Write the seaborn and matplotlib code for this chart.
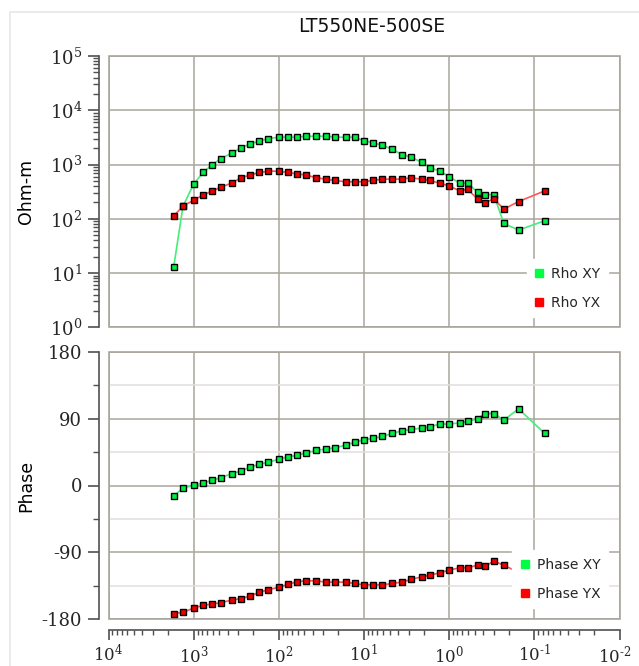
import matplotlib
matplotlib.use("Agg")
import matplotlib.pyplot as plt
import matplotlib.ticker as mticker
import matplotlib.transforms as mtransforms
from matplotlib.lines import Line2D
from matplotlib.patches import Rectangle
import numpy as np
import seaborn as sns

# ---------------- data ----------------
title = "LT550NE-500SE"
periods = [1714, 1334, 1000, 778, 610, 479, 359, 279, 219, 170, 133, 100, 77.8, 61.5,
           47.4, 36.2, 28.1, 21.9, 16.4, 12.9, 10.1, 7.85, 6.08, 4.65, 3.61, 2.80, 2.11,
           1.70, 1.29, 1.0, 0.755, 0.608, 0.464, 0.384, 0.299, 0.228, 0.153, 0.0755]
rho_xy = [13.1, 171, 435, 713, 986, 1289, 1617, 2028, 2400, 2686, 3013, 3187, 3187, 3187,
          3322, 3322, 3322, 3187, 3187, 3187, 2767, 2506, 2268, 1915, 1528, 1365, 1104,
          881, 754, 601, 453, 453, 309, 277, 277, 82, 62, 92]
rho_yx = [113, 171, 221, 273, 323, 383, 453, 569, 637, 713, 754, 754, 713, 673, 637, 569,
          537, 508, 480, 480, 480, 508, 537, 537, 537, 569, 537, 508, 453, 404, 327, 347,
          233, 197, 233, 151, 208, 327]
phase_xy = [-14.1, -3.4, 0.2, 3.4, 6.9, 10.5, 15.9, 19.5, 24.8, 28.4, 31.5, 35.1, 38.7,
            40.5, 44.1, 47.2, 49.0, 50.8, 54.4, 58.0, 61.5, 63.3, 66.0, 70.0, 73.6, 75.4,
            77.2, 79.0, 82.6, 82.6, 84.3, 86.1, 89.7, 96.8, 96.8, 87.9, 103.1, 70.0]
phase_yx = [-172.5, -170.7, -164.9, -161.3, -159.5, -157.7, -154.1, -152.3, -148.8, -143.8,
            -140.3, -136.7, -133.1, -129.5, -128.2, -128.2, -130.0, -130.0, -130.0, -131.8,
            -133.6, -133.6, -133.6, -131.8, -130.0, -126.4, -122.8, -121.0, -117.4, -113.9,
            -110.7, -110.7, -107.2, -108.9, -101.8, -107.2, -117.0, -125.0]
rho_labels = ["Rho XY", "Rho YX"]
phase_labels = ["Phase XY", "Phase YX"]
phase_ticks = [-180, -90, 0, 90, 180]
phase_ticklabels = ["-180", "-90", "0", "90", "180"]

# ---------------- style ----------------
sns.set_theme(style="white")
plt.rcParams["font.family"] = ["DejaVu Sans"]
plt.rcParams["mathtext.fontset"] = "dejavuserif"
plt.rcParams["axes.unicode_minus"] = False

GREEN = "#00ee44"
GREEN_LINE = "#44ee77"
RED = "#ee0000"
RED_LINE = "#ff5555"
GRID = "#a9a59e"
GRID_MINOR = "#e2dfda"
SPINE = "#505050"
TICK_FS = 13

W, H = 639, 666
fig = plt.figure(figsize=(W / 100, H / 100), dpi=100)

L, R = 108.5, 619.5
def axrect(top, bottom):
    return [L / W, 1 - bottom / H, (R - L) / W, (bottom - top) / H]

ax1 = fig.add_axes(axrect(56, 327.3))
ax2 = fig.add_axes(axrect(351.7, 619.3))

# outer light frame
fig.patches.append(Rectangle((10 / W, -0.1), 1.2, 1 - 12 / H + 0.1, transform=fig.transFigure,
                             fill=False, edgecolor="#e6e6e6", lw=1.2))

line_kw = dict(marker="s", markersize=5.0, markeredgecolor="black", markeredgewidth=1.0,
               linewidth=1.2, sort=False, estimator=None)

sns.lineplot(x=periods, y=rho_xy, ax=ax1, color=GREEN_LINE, markerfacecolor=GREEN, zorder=3, **line_kw)
sns.lineplot(x=periods, y=rho_yx, ax=ax1, color=RED_LINE, markerfacecolor=RED, zorder=4, **line_kw)
sns.lineplot(x=periods, y=phase_xy, ax=ax2, color=GREEN_LINE, markerfacecolor=GREEN, zorder=3, **line_kw)
sns.lineplot(x=periods, y=phase_yx, ax=ax2, color=RED_LINE, markerfacecolor=RED, zorder=4, **line_kw)

def log_fmt(v, pos):
    if v <= 0:
        return ""
    n = int(round(np.log10(v)))
    if n < 0:
        return r"$10^{\text{-}%d}$" % (-n)
    return r"$10^{%d}$" % n

for ax in (ax1, ax2):
    ax.set_xscale("log")
    ax.set_xlim(1e4, 1e-2)
    ax.xaxis.set_major_locator(mticker.FixedLocator([1e4, 1e3, 1e2, 1e1, 1e0, 1e-1, 1e-2]))
    ax.xaxis.set_minor_locator(mticker.LogLocator(base=10, subs=np.arange(2, 10), numticks=20))
    ax.set_facecolor("white")
    for s in ("top", "right"):
        ax.spines[s].set_visible(False)
    ax.spines["left"].set_position(("outward", 7))
    ax.spines["left"].set_color(SPINE)
    ax.spines["left"].set_linewidth(1.2)
    ax.add_patch(Rectangle((0, 0), 1, 1, transform=ax.transAxes, fill=False,
                           edgecolor=GRID, lw=1.2, zorder=2.5, clip_on=False))
    ax.grid(True, which="major", axis="both", color=GRID, lw=1.1, zorder=0)
    ax.set_axisbelow(True)
    ax.tick_params(axis="y", which="major", direction="out", length=8, width=1.2,
                   color=SPINE, labelsize=TICK_FS, pad=4, left=True)
    ax.tick_params(axis="y", which="minor", direction="out", length=4, width=1.0,
                   color=SPINE, left=True)

# top panel
ax1.set_yscale("log")
ax1.set_ylim(1, 1e5)
ax1.yaxis.set_major_locator(mticker.LogLocator(base=10, numticks=10))
ax1.yaxis.set_minor_locator(mticker.LogLocator(base=10, subs=np.arange(2, 10), numticks=10))
ax1.yaxis.set_major_formatter(mticker.FuncFormatter(log_fmt))
ax1.spines["bottom"].set_visible(False)
ax1.tick_params(axis="x", which="both", bottom=False, labelbottom=False)
ax1.set_xlabel("")
ax1.set_ylabel("Ohm-m", fontsize=12.5, color="black")
ax1.yaxis.set_label_coords((35 - L) / (R - L), 0.5)

# bottom panel
ax2.set_ylim(-180, 180)
ax2.set_yticks(phase_ticks)
ax2.set_yticklabels(phase_ticklabels, family="DejaVu Serif", fontsize=TICK_FS)
ax2.yaxis.set_minor_locator(mticker.MultipleLocator(45))
ax2.grid(True, which="minor", axis="y", color=GRID_MINOR, lw=1.1, zorder=0)
ax2.spines["bottom"].set_position(("outward", 8))
ax2.spines["bottom"].set_color(SPINE)
ax2.spines["bottom"].set_linewidth(1.2)
ax2.xaxis.set_major_formatter(mticker.FuncFormatter(log_fmt))
ax2.tick_params(axis="x", which="major", direction="out", length=7, width=1.2,
                color=SPINE, labelsize=12, pad=3, bottom=True)
ax2.tick_params(axis="x", which="minor", direction="out", length=3.5, width=1.0,
                color=SPINE, bottom=True)
ax2.set_xlabel("")
ax2.set_ylabel("Phase", fontsize=12.5, color="black")
ax2.yaxis.set_label_coords((35 - L) / (R - L), 0.5)

fig.text(372 / W, 1 - 27 / H, title, ha="center", va="center", fontsize=13.5, color="#111111")

def make_legend(ax, labels, yfrac):
    handles = [Line2D([], [], marker="s", linestyle="none", markerfacecolor=c,
                      markeredgecolor=c, markersize=6)
               for c in ("#00ff44", "#ff0000")]
    leg = ax.legend(handles, labels, loc="lower right",
                    bbox_to_anchor=((608 - L) / (R - L), yfrac), borderaxespad=0,
                    frameon=True, fancybox=False, framealpha=1, facecolor="white",
                    edgecolor="white", fontsize=10, handlelength=0.7, handletextpad=0.5,
                    labelspacing=1.05, borderpad=0.55)
    leg.set_zorder(10)
    return leg

make_legend(ax1, rho_labels, 10 / 271.3)
make_legend(ax2, phase_labels, 11 / 267.6)

# keep the right-most x tick label inside the canvas
fig.canvas.draw()
last_tick = ax2.xaxis.get_major_ticks()[-1]
shift = mtransforms.ScaledTranslation(-5 / 100, 0, fig.dpi_scale_trans)
last_tick.label1.set_transform(last_tick.label1.get_transform() + shift)

fig.savefig("out.png", dpi=100)
